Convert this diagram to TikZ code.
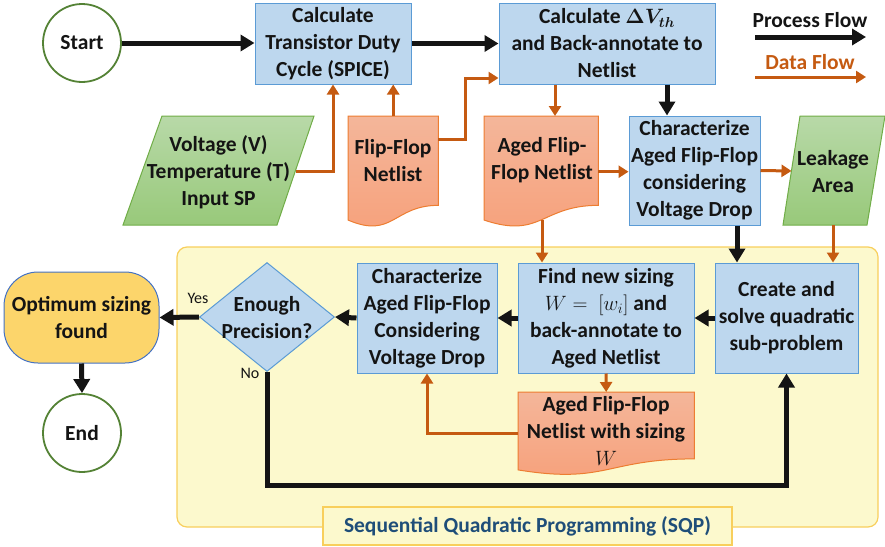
\documentclass[tikz,border=0pt]{standalone}
\usepackage{fontspec}
\setmainfont{Carlito}
\usetikzlibrary{arrows.meta,calc,shapes.geometric}

\definecolor{boxfill}{HTML}{BDD7EE}
\definecolor{boxline}{HTML}{5B9BD5}
\definecolor{docline}{HTML}{ED7D31}
\definecolor{doctop}{HTML}{F4B69A}
\definecolor{docbot}{HTML}{F7A07A}
\definecolor{iotop}{HTML}{B8D9A8}
\definecolor{iobot}{HTML}{98C97A}
\definecolor{ioline}{HTML}{70AD47}
\definecolor{termline}{HTML}{548235}
\definecolor{dataflow}{HTML}{C55A11}
\definecolor{procflow}{HTML}{141414}
\definecolor{sqpfill}{HTML}{FCF9CD}
\definecolor{sqpline}{HTML}{F8CF5C}
\definecolor{sqptext}{HTML}{1F4E79}
\definecolor{optfill}{HTML}{FCD56B}
\definecolor{optline}{HTML}{4472C4}
\definecolor{ink}{HTML}{141414}

% document (wavy bottom) outline over an invisible frame node
\newcommand{\drawdoc}[1]{%
  \path[docshape] (#1.north west) -- (#1.north east)
    -- ($(#1.north east)!0.802!(#1.south east)$)
    .. controls ($(#1.north)!0.802!(#1.south)$) and ($(#1.north)!1.107!(#1.south)$)
    .. ($(#1.north west)!0.934!(#1.south west)$) -- cycle;}

\begin{document}
\begin{tikzpicture}[x=1pt,y=-1pt,
  font=\fontsize{21.5pt}{27pt}\selectfont\bfseries,
  text=ink,
  procbox/.style={draw=boxline, fill=boxfill, line width=1pt, align=center, inner sep=1pt},
  terminal/.style={circle, draw=termline, fill=white, line width=1.8pt, minimum size=78pt, inner sep=0pt},
  frame/.style={rectangle, inner sep=0pt, anchor=north west},
  docshape/.style={draw=docline, line width=1pt, top color=doctop, bottom color=docbot},
  ioshape/.style={draw=ioline, line width=1pt, top color=iotop, bottom color=iobot},
  label/.style={align=center, inner sep=0pt},
  pf/.style={draw=procflow, line width=5pt, -{Triangle[length=14pt,width=16pt]}},
  df/.style={draw=dataflow, line width=3pt, -{Triangle[length=10pt,width=12pt]}},
  small/.style={font=\fontsize{16pt}{19pt}\selectfont}
]
\useasboundingbox (0,0) rectangle (885,546);

% SQP loop container and its caption
\node[draw=sqpline, fill=sqpfill, line width=1.2pt, rounded corners=10pt,
      minimum width=701pt, minimum height=280pt, inner sep=0pt] (sqp) at (527.5,387) {};
\node[draw=sqpline, fill=sqpfill, line width=1.2pt, minimum width=409pt, minimum height=38pt,
      inner sep=0pt, text=sqptext] (sqpcap) at (527.5,526) {Sequential Quadratic Programming (SQP)};

% terminals
\node[terminal] (start) at (82,43) {Start};
\node[terminal] (end) at (82,433) {End};

% process boxes
\node[procbox, minimum width=156pt, minimum height=81pt] (b1) at (333,43.5)
  {Calculate\\Transistor Duty\\Cycle (SPICE)};
\node[procbox, minimum width=216pt, minimum height=81pt] (b2) at (607,43.5)
  {Calculate {\boldmath$\Delta V_{th}$}\\and Back-annotate to\\Netlist};
\node[procbox, minimum width=131pt, minimum height=109pt] (ch1) at (694.5,170.5)
  {Characterize\\Aged Flip-Flop\\considering\\Voltage Drop};
\node[procbox, minimum width=143pt, minimum height=110pt] (cr) at (786.5,318)
  {Create and\\solve quadratic\\sub-problem};
\node[procbox, minimum width=176pt, minimum height=110pt] (fd) at (606,318)
  {Find new sizing\\$W =\ [w_i]$ and\\back-annotate to\\Aged Netlist};
\node[procbox, minimum width=140pt, minimum height=110pt] (ch2) at (427,318)
  {Characterize\\Aged Flip-Flop\\Considering\\Voltage Drop};

% decision
\node[diamond, draw=boxline, fill=boxfill, line width=1pt, minimum width=135pt,
      minimum height=109pt, inner sep=0pt] (dia) at (267,317) {};
\node[label] (diat) at (267,317.5) {Enough\\Precision?};

% result
\node[draw=optline, fill=optfill, line width=1pt, rounded corners=34pt, align=center,
      minimum width=155pt, minimum height=91pt] (opt) at (81.5,317.5) {Optimum sizing\\found};

% documents
\node[frame, minimum width=90pt, minimum height=111pt] (ff) at (348,116) {};
\drawdoc{ff}
\node[label] (fft) at (393,160.5) {Flip-Flop\\Netlist};
\node[frame, minimum width=114pt, minimum height=111pt] (ag) at (484,116) {};
\drawdoc{ag}
\node[label] (agt) at (542,160.5) {Aged Flip-\\Flop Netlist};
\node[frame, minimum width=176pt, minimum height=83pt] (sz) at (518,392) {};
\drawdoc{sz}
\node[label] (szt) at (606,431) {Aged Flip-Flop\\Netlist with sizing\\$W$};

% data inputs / outputs
\path[ioshape] (162,116) -- (314,116) -- (277,225) -- (123,225) -- cycle;
\node[label] (vt) at (218.5,172) {Voltage (V)\\Temperature (T)\\Input SP};
\path[ioshape] (800,116) -- (885,116) -- (867,225) -- (783,225) -- cycle;
\node[label] (lk) at (833,172) {Leakage\\Area};

% legend
\node[label] (lgp) at (810,20) {Process Flow};
\node[label, text=dataflow] (lgd) at (810,62) {Data Flow};
\coordinate (lgpa) at (755,37);  \coordinate (lgpb) at (866,37);
\coordinate (lgda) at (755,77);  \coordinate (lgdb) at (866,77);
\draw[pf] (lgpa) -- (lgpb);
\draw[df] (lgda) -- (lgdb);

% helper points on edges and columns
\coordinate (vtr) at (295.5,171);
\coordinate (ffr) at (438,139);
\coordinate (jn) at (465,78);
\coordinate (c555) at (555,0);
\coordinate (c542) at (542,0);
\coordinate (agb) at (542,220);
\coordinate (c667) at (667,0);
\coordinate (c737) at (737,0);
\coordinate (lkl) at (791.5,171);
\coordinate (lkb) at (833,225);
\coordinate (loop) at (0,485);

% process flow
\draw[pf] (start.east) -- (start.east -| b1.west);
\draw[pf] (b1.east |- b2.west) -- (b2.west);
\draw[pf] (b2.south -| c667) -- (ch1.north -| c667);
\draw[pf] (ch1.south -| c737) -- (cr.north -| c737);
\draw[pf] (cr.west) -- (fd.east);
\draw[pf] (fd.west) -- (ch2.east);
\draw[pf] (ch2.west) -- (dia.east);
\draw[pf] (dia.west) -- (opt.east);
\draw[pf] (opt.south) -- (end.north);
\draw[pf] (dia.south) -- (dia.south |- loop) -| (cr.south);

% data flow
\draw[df] (vtr) -| (b1.south);
\draw[df] (ff.north) -- (ff.north |- b1.south);
\draw[df] (ffr) -| (jn) -- (jn -| b2.west);
\draw[df] (b2.south -| c555) -- (ag.north -| c555);
\draw[df] (ag.east) -- (ag.east -| ch1.west);
\draw[df] (ch1.east) -- (lkl);
\draw[df] (lkb) -- (lkb |- cr.north);
\draw[df] (agb) -- (fd.north -| c542);
\draw[df] (fd.south) -- (sz.north);
\draw[df] (sz.west) -| (ch2.south);

% branch labels
\node[small, label] (yes) at (198,298) {Yes};
\node[small, label] (no) at (250,373) {No};
\end{tikzpicture}
\end{document}
